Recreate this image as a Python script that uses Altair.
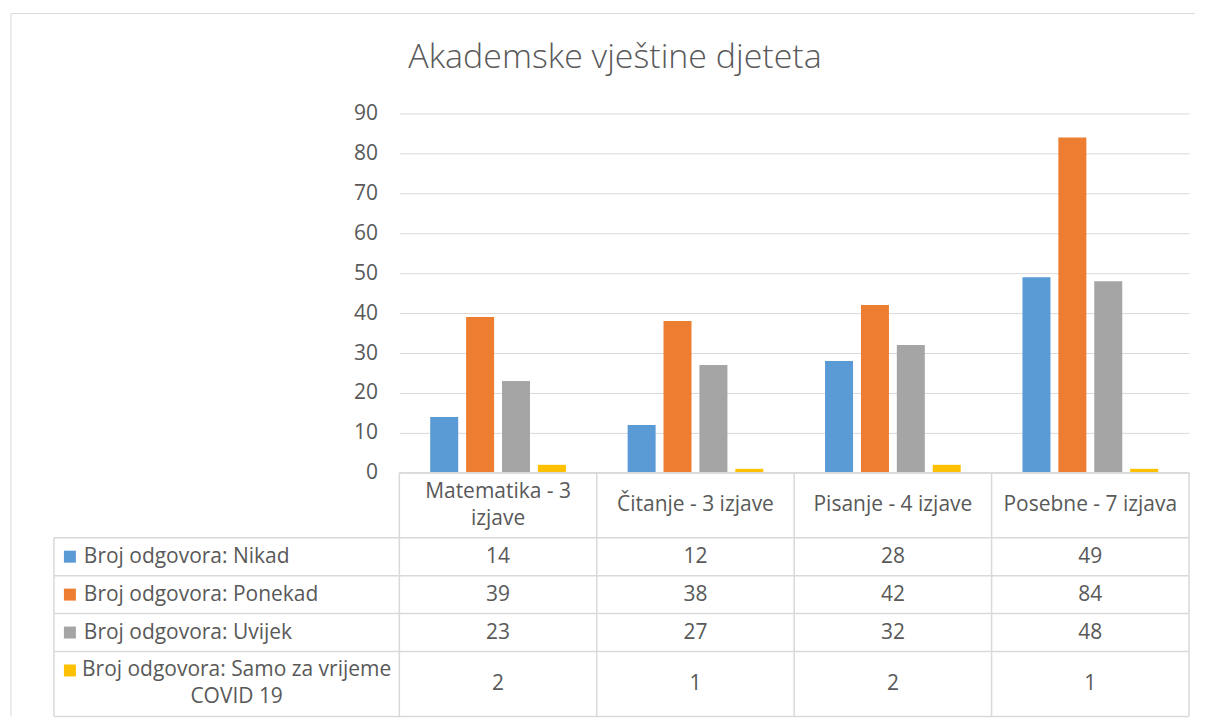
import altair as alt
import pandas as pd

# ---- data -------------------------------------------------------------
categories = ["Matematika - 3 izjave", "Čitanje - 3 izjave", "Pisanje - 4 izjave", "Posebne - 7 izjava"]
header_labels = ["Matematika - 3\nizjave", "Čitanje - 3 izjave", "Pisanje - 4 izjave", "Posebne - 7 izjava"]
series = ["Broj odgovora: Nikad", "Broj odgovora: Ponekad", "Broj odgovora: Uvijek",
          "Broj odgovora: Samo za vrijeme COVID 19"]
series_labels = ["Broj odgovora: Nikad", "Broj odgovora: Ponekad", "Broj odgovora: Uvijek",
                 "Broj odgovora: Samo za vrijeme\nCOVID 19"]
nikad = [14, 12, 28, 49]
ponekad = [39, 38, 42, 84]
uvijek = [23, 27, 32, 48]
covid = [2, 1, 2, 1]
colors = ["#5B9BD5", "#ED7D31", "#A5A5A5", "#FFC000"]
y_ticks = [0, 10, 20, 30, 40, 50, 60, 70, 80, 90]

values = [nikad, ponekad, uvijek, covid]

# ---- layout constants --------------------------------------------------
FONT = "Open Sans"
TXT = "#595959"
GRID = "#D9D9D9"
W, H = 791, 360
HEAD_W = 346          # width of the row-header column of the data table
FRAME_X = -389        # outer chart frame, relative to plot left
LINE_H = 27
ROW_PAD = 11
FS = 21

rows_lines = [2, 1, 1, 1, 2]  # header row + 4 series rows
row_h = [n * LINE_H + ROW_PAD for n in rows_lines]
edges = [0]
for h in row_h:
    edges.append(edges[-1] + h)
TOTAL = edges[-1]
mids = [(edges[i] + edges[i + 1]) / 2 for i in range(len(row_h))]

# ---- bar chart ---------------------------------------------------------
bar_rows = []
for s, vals in zip(series, values):
    for c, v in zip(categories, vals):
        bar_rows.append({"cat": c, "series": s, "value": v})
bar_df = pd.DataFrame(bar_rows)

xscale = alt.Scale(domain=categories, paddingInner=0, paddingOuter=0)

bars = alt.Chart(bar_df).mark_bar().encode(
    x=alt.X("cat:N", scale=xscale, axis=None, sort=categories),
    xOffset=alt.XOffset("series:N", sort=series,
                        scale=alt.Scale(domain=series, paddingInner=0.22, paddingOuter=0.86)),
    y=alt.Y("value:Q", scale=alt.Scale(domain=[0, 90]),
            axis=alt.Axis(values=y_ticks, title=None, domain=False, ticks=False,
                          labelPadding=22, gridColor=GRID, labelFontSize=FS,
                          labelColor=TXT, labelFont=FONT)),
    color=alt.Color("series:N", scale=alt.Scale(domain=series, range=colors), legend=None),
)

frame_df = pd.DataFrame({"k": [0]})
frame_top = alt.Chart(frame_df).mark_rule(color=GRID, strokeWidth=1).encode(
    x=alt.value(FRAME_X), x2=alt.value(W + 6), y=alt.value(-100)
)
frame_left_top = alt.Chart(frame_df).mark_rule(color=GRID, strokeWidth=1).encode(
    x=alt.value(FRAME_X), y=alt.value(-100), y2=alt.value(H)
)

top = alt.layer(frame_top, frame_left_top, bars).properties(width=W, height=H)

# ---- data table --------------------------------------------------------
yrow = alt.Scale(domain=[0, TOTAL], reverse=True, nice=False, zero=False)

frame_left_bottom = alt.Chart(frame_df).mark_rule(color=GRID, strokeWidth=1).encode(
    x=alt.value(FRAME_X), y=alt.value(0), y2=alt.value(TOTAL)
)

h_top = pd.DataFrame({"y": [edges[0]]})
h_rest = pd.DataFrame({"y": edges[1:]})
rule_top = alt.Chart(h_top).mark_rule(color=GRID, strokeWidth=1.5).encode(
    y=alt.Y("y:Q", scale=yrow, axis=None), x=alt.value(0), x2=alt.value(W)
)
rule_rest = alt.Chart(h_rest).mark_rule(color=GRID, strokeWidth=1.5).encode(
    y=alt.Y("y:Q", scale=yrow, axis=None), x=alt.value(-HEAD_W), x2=alt.value(W)
)

v_df = pd.DataFrame({"cat": categories, "y": [edges[0]] * 4, "y2": [TOTAL] * 4})
v_rules = alt.Chart(v_df).mark_rule(color=GRID, strokeWidth=1.5).encode(
    x=alt.X("cat:N", scale=xscale, axis=None, bandPosition=0, sort=categories),
    y=alt.Y("y:Q", scale=yrow, axis=None), y2="y2:Q"
)
v_right = alt.Chart(pd.DataFrame({"y": [edges[0]], "y2": [TOTAL]})).mark_rule(
    color=GRID, strokeWidth=1.5).encode(
    x=alt.value(W), y=alt.Y("y:Q", scale=yrow, axis=None), y2="y2:Q"
)
v_left = alt.Chart(pd.DataFrame({"y": [edges[1]], "y2": [TOTAL]})).mark_rule(
    color=GRID, strokeWidth=1.5).encode(
    x=alt.value(-HEAD_W), y=alt.Y("y:Q", scale=yrow, axis=None), y2="y2:Q"
)

head_df = pd.DataFrame({"cat": categories, "label": header_labels})
head_df["lines"] = head_df["label"].str.count("\n") + 1
head_df["y1"] = mids[0] - (head_df["lines"] - 1) * LINE_H / 2
head_text = alt.Chart(head_df).mark_text(
    font=FONT, fontSize=FS, color=TXT, lineBreak="\n", lineHeight=LINE_H, baseline="middle"
).encode(
    x=alt.X("cat:N", scale=xscale, axis=None, sort=categories),
    y=alt.Y("y1:Q", scale=yrow, axis=None), text="label:N"
)

cell_rows = []
for i, (s, vals) in enumerate(zip(series, values)):
    for c, v in zip(categories, vals):
        cell_rows.append({"cat": c, "series": s, "value": str(v), "y": mids[i + 1]})
cell_df = pd.DataFrame(cell_rows)
cell_text = alt.Chart(cell_df).mark_text(
    font=FONT, fontSize=FS, color=TXT, baseline="middle"
).encode(
    x=alt.X("cat:N", scale=xscale, axis=None, sort=categories),
    y=alt.Y("y:Q", scale=yrow, axis=None), text="value:N"
)

lab_df = pd.DataFrame({
    "series": series, "label": series_labels,
    "lines": rows_lines[1:], "y": mids[1:],
})
lab_df["y1"] = lab_df["y"] - (lab_df["lines"] - 1) * LINE_H / 2

lab_single = alt.Chart(lab_df).transform_filter("datum.lines == 1").mark_text(
    font=FONT, fontSize=FS, color=TXT, align="left", baseline="middle"
).encode(
    x=alt.value(-HEAD_W + 30), y=alt.Y("y1:Q", scale=yrow, axis=None), text="label:N"
)
lab_multi = alt.Chart(lab_df).transform_filter("datum.lines > 1").mark_text(
    font=FONT, fontSize=FS, color=TXT, align="center", baseline="middle",
    lineBreak="\n", lineHeight=LINE_H
).encode(
    x=alt.value(-163), y=alt.Y("y1:Q", scale=yrow, axis=None), text="label:N"
)
keys = alt.Chart(lab_df).mark_square(size=144, opacity=1).encode(
    x=alt.value(-HEAD_W + 16), y=alt.Y("y1:Q", scale=yrow, axis=None),
    color=alt.Color("series:N", scale=alt.Scale(domain=series, range=colors), legend=None)
)

table = alt.layer(
    frame_left_bottom, rule_top, rule_rest, v_rules, v_right, v_left, head_text, cell_text,
    lab_single, lab_multi, keys
).properties(width=W, height=TOTAL)

chart = alt.vconcat(top, table, spacing=0, bounds="flush").properties(
    title=alt.Title("Akademske vještine djeteta", fontSize=34, font=FONT, fontWeight=300,
                    color=TXT, anchor="middle", offset=-62, dx=12),
    padding={"left": 2, "top": 4, "right": 2, "bottom": 0},
).configure_view(stroke=None).configure_concat(spacing=0)

chart.save("out.html", embed_options={"renderer": "svg", "actions": False})
